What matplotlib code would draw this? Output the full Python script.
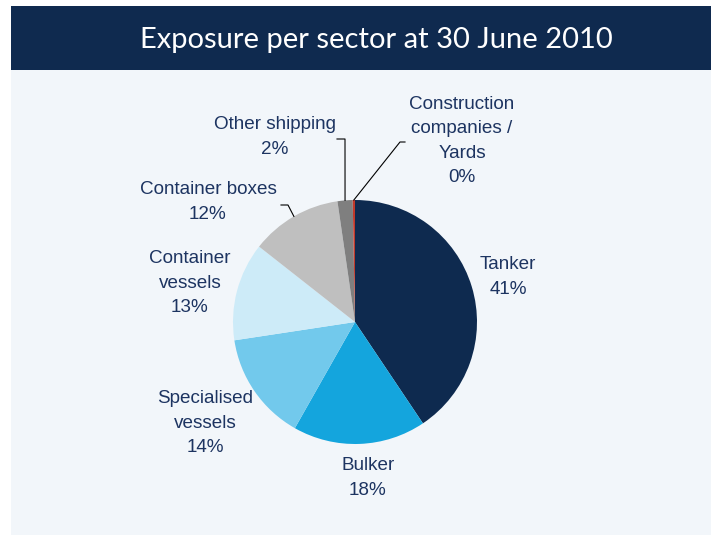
import numpy as np
import matplotlib
matplotlib.use("Agg")
import matplotlib.pyplot as plt
from matplotlib.patches import Rectangle

sectors = ["Tanker", "Bulker", "Specialised\nvessels", "Container\nvessels",
           "Container boxes", "Other shipping", "Construction\ncompanies /\nYards"]
shares = [40.6, 17.6, 14.4, 13.0, 12.1, 2.0, 0.3]
pct_labels = ["41%", "18%", "14%", "13%", "12%", "2%", "0%"]
colors = ["#0e2a4f", "#14a5dd", "#72c9ec", "#cdebf8", "#bfbfbf", "#7f7f7f", "#c0392b"]

W, H = 711, 535
CX, CY, R = 355, 322, 122   # pie centre / radius in pixels (from top-left)
TXT = "#1d3461"


def px(x):
    return (x - CX) / R


def py(y):
    return (CY - y) / R


fig = plt.figure(figsize=(W / 100, H / 100), dpi=100)
fig.patch.set_facecolor("white")
fig.add_artist(Rectangle((11 / W, 0), 1 - 11 / W, (H - 70) / H, transform=fig.transFigure,
                         facecolor="#f2f6fa", edgecolor="none", zorder=0))
fig.add_artist(Rectangle((11 / W, (H - 70) / H), 1 - 11 / W, 64 / H, transform=fig.transFigure,
                         facecolor="#0f2a4f", edgecolor="none", zorder=0))
fig.text(376 / W, 1 - 40 / H, "Exposure per sector at 30 June 2010", color="white",
         fontsize=21, family="Lato", ha="center", va="center")

half = 200
ax = fig.add_axes([(CX - half) / W, (H - CY - half) / H, 2 * half / W, 2 * half / H])
ax.set_facecolor("none")
wedges, _ = ax.pie(shares, colors=colors, startangle=90, counterclock=False, radius=1,
                   wedgeprops=dict(linewidth=0))
ax.set_xlim(-half / R, half / R)
ax.set_ylim(-half / R, half / R)
ax.axis("off")

# label positions (pixels)
label_pos = [(508, 277), (368, 478), (205, 423), (190, 283), (208, 202), (275, 137), (462, 141)]
for name, pct, (lx, ly) in zip(sectors, pct_labels, label_pos):
    ax.text(px(lx), py(ly), name + "\n" + pct, ha="center", va="center", color=TXT,
            fontsize=13.6, family="Liberation Sans", linespacing=1.58)


def edge_point(w):
    ang = np.deg2rad((w.theta1 + w.theta2) / 2)
    return np.cos(ang), np.sin(ang)

# leader lines: label end -> elbow -> slice edge
leaders = {4: [(281, 205), (288, 205)],
           5: [(337, 139), (345, 139)],
           6: [(405, 142), (400, 142)]}
for i, pts in leaders.items():
    ex, ey = edge_point(wedges[i])
    xs = [px(p[0]) for p in pts] + [ex]
    ys = [py(p[1]) for p in pts] + [ey]
    ax.plot(xs, ys, color="black", linewidth=0.8, clip_on=False)

fig.savefig("out.png", dpi=100)
